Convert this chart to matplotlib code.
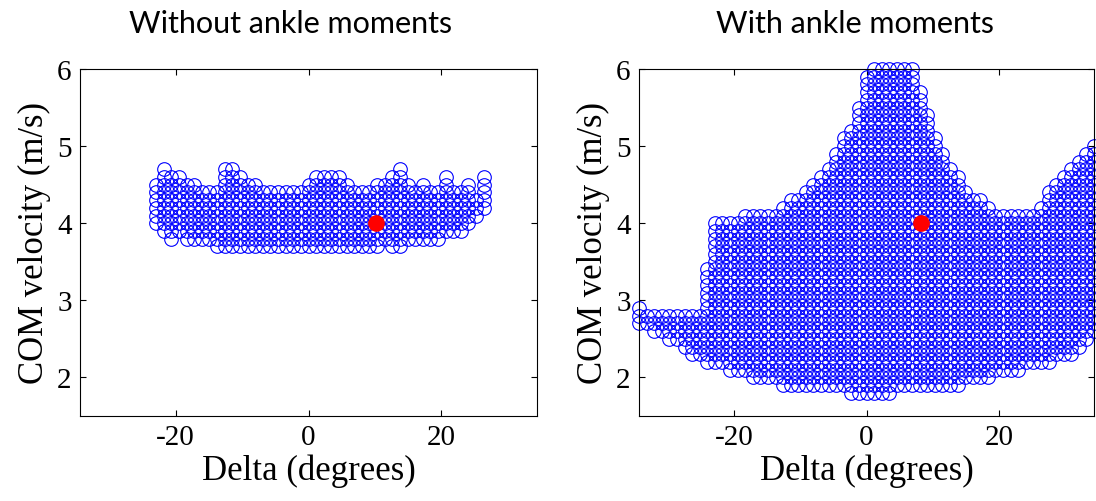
import matplotlib.pyplot as plt
import numpy as np

plt.rcParams['axes.unicode_minus'] = False

# Grid step of the delta sweep (0.02 rad, shown in degrees) and velocity step
delta_step = np.degrees(0.02)
vel_step = 0.1

# --- Without ankle moments: one column per delta index, velocity range per column
left_cols = list(range(-20, 24))
left_top = [4.5, 4.7, 4.6, 4.6, 4.5, 4.5, 4.4, 4.4, 4.4, 4.7, 4.7, 4.6, 4.5, 4.5, 4.4,
            4.4, 4.4, 4.4, 4.4, 4.4, 4.5, 4.6, 4.6, 4.6, 4.6, 4.5, 4.4, 4.4, 4.4, 4.5,
            4.5, 4.6, 4.7, 4.5, 4.4, 4.5, 4.4, 4.4, 4.6, 4.4, 4.4, 4.5, 4.3, 4.6]
left_bot = [4.0, 3.9, 3.8, 3.9, 3.8, 3.8, 3.8, 3.8, 3.7, 3.7, 3.7, 3.7, 3.7, 3.7, 3.7,
            3.7, 3.7, 3.7, 3.7, 3.7, 3.7, 3.7, 3.7, 3.7, 3.7, 3.7, 3.7, 3.7, 3.7, 3.7,
            3.8, 3.7, 3.7, 3.8, 3.8, 3.8, 3.8, 3.8, 3.9, 3.9, 3.9, 4.0, 4.1, 4.2]
left_ref = (10.1, 4.0)

# --- With ankle moments
right_cols = list(range(-30, 31))
right_top = [2.9, 2.8, 2.8, 2.8, 2.8, 2.8, 2.8, 2.8, 2.8, 3.4,   # -30..-21
             4.0, 4.0, 4.0, 4.0, 4.1, 4.1, 4.1, 4.1, 4.1, 4.2,   # -20..-11
             4.3, 4.3, 4.4, 4.5, 4.6, 4.7, 4.9, 5.1, 5.2, 5.5,   # -10..-1
             5.9, 6.0, 6.0, 6.0, 6.0, 6.0, 6.0, 5.7, 5.4, 5.1,   # 0..9
             4.9, 4.7, 4.6, 4.4, 4.3, 4.3, 4.2, 4.1, 4.1, 4.1,   # 10..19
             4.1, 4.1, 4.1, 4.2, 4.4, 4.5, 4.6, 4.7, 4.8, 4.9,   # 20..29
             5.0]                                               # 30
right_bot = [2.7, 2.7, 2.6, 2.6, 2.5, 2.5, 2.4, 2.3, 2.3, 2.2,   # -30..-21
             2.2, 2.2, 2.1, 2.1, 2.1, 2.0, 2.0, 2.0, 2.0, 1.9,   # -20..-11
             1.9, 1.9, 1.9, 1.9, 1.9, 1.9, 1.9, 1.9, 1.8, 1.8,   # -10..-1
             1.8, 1.8, 1.8, 1.8, 1.9, 1.9, 1.9, 1.9, 1.9, 1.9,   # 0..9
             1.9, 1.9, 1.9, 2.0, 2.0, 2.0, 2.0, 2.1, 2.1, 2.1,   # 10..19
             2.1, 2.2, 2.2, 2.2, 2.2, 2.3, 2.3, 2.3, 2.4, 2.5,   # 20..29
             2.6]                                               # 30
right_ref = (8.2, 4.0)


def expand(cols, tops, bots):
    xs, ys = [], []
    for k, t, b in zip(cols, tops, bots):
        n = int(round((t - b) / vel_step)) + 1
        for i in range(n):
            xs.append(k * delta_step)
            ys.append(b + i * vel_step)
    return np.array(xs), np.array(ys)


fig = plt.figure(figsize=(10.96, 5.02), dpi=100)
ax1 = fig.add_axes([80 / 1096, 85 / 502, 457 / 1096, 347 / 502])
ax2 = fig.add_axes([639 / 1096, 85 / 502, 455 / 1096, 347 / 502])

panels = [(ax1, left_cols, left_top, left_bot, left_ref),
          (ax2, right_cols, right_top, right_bot, right_ref)]

for ax, cols, tops, bots, ref in panels:
    xs, ys = expand(cols, tops, bots)
    ax.plot(xs, ys, 'o', mfc='none', mec=(0, 0, 1), ms=9.8, mew=0.8,
            ls='none', clip_on=False)
    ax.plot(ref[0], ref[1], 'o', color=(1, 0, 0), ms=11, zorder=5)
    lim = np.degrees(0.6)
    ax.set_xlim(-lim, lim)
    ax.set_ylim(1.5, 6)
    ax.set_xticks([-20, 0, 20])
    ax.set_yticks([2, 3, 4, 5, 6])
    ax.tick_params(direction='in', top=True, right=True, length=4, width=0.8,
                   labelsize=21, pad=6)
    for lab in ax.get_xticklabels() + ax.get_yticklabels():
        lab.set_fontfamily('Liberation Serif')
    ax.set_xlabel('Delta (degrees)', fontsize=25, family='Liberation Serif', labelpad=2)
    ax.set_ylabel('COM velocity (m/s)', fontsize=25, family='Liberation Serif', labelpad=4)
    for sp in ax.spines.values():
        sp.set_linewidth(0.8)

fig.text(291 / 1096, 1 - 24 / 502, 'Without ankle moments', ha='center', va='center',
         fontsize=22, family='Lato')
fig.text(855 / 1096, 1 - 24 / 502, 'With ankle moments', ha='center', va='center',
         fontsize=22, family='Lato')

fig.savefig('out.png', dpi=100)
